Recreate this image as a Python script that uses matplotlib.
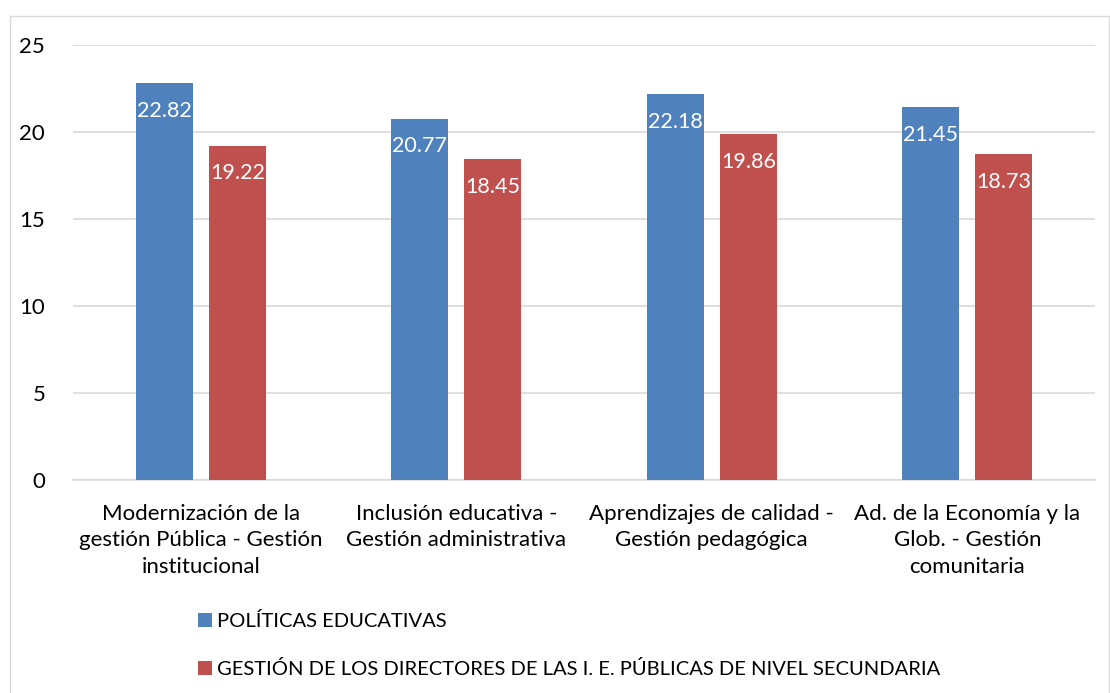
import numpy as np
import matplotlib.pyplot as plt
from matplotlib.patches import Rectangle

plt.rcParams['font.family'] = ['Lato', 'DejaVu Sans']

categorias = ["Modernización de la\ngestión Pública - Gestión\ninstitucional",
              "Inclusión educativa -\nGestión administrativa",
              "Aprendizajes de calidad -\nGestión pedagógica",
              "Ad. de la Economía y la\nGlob. - Gestión\ncomunitaria"]
politicas = [22.82, 20.77, 22.18, 21.45]
gestion = [19.22, 18.45, 19.86, 18.73]
series = ["POLÍTICAS EDUCATIVAS",
          "GESTIÓN DE LOS DIRECTORES DE LAS I. E. PÚBLICAS DE NIVEL SECUNDARIA"]

AZUL = '#4F81BD'
ROJO = '#C0504D'

fig = plt.figure(figsize=(11.1, 6.93), dpi=100)
ax = fig.add_axes([73 / 1110, 0.3074, 1022 / 1110, 0.6276])

# marco exterior
fig.patches.append(Rectangle((9.5 / 1110, -0.01), 1099 / 1110, 1.01 - 16 / 693,
                             transform=fig.transFigure, fill=False,
                             edgecolor='#D9D9D9', linewidth=1))

x = np.arange(len(categorias))
ancho = 0.223
desp = 0.143
b1 = ax.bar(x - desp, politicas, ancho, color=AZUL, label=series[0], zorder=3)
b2 = ax.bar(x + desp, gestion, ancho, color=ROJO, label=series[1], zorder=3)

for barras in (b1, b2):
    for b in barras:
        ax.annotate(f"{b.get_height():.2f}",
                    (b.get_x() + b.get_width() / 2, b.get_height()),
                    xytext=(0, -20), textcoords='offset points',
                    ha='center', va='center', color='white', fontsize=15.5, zorder=4)

ax.set_xlim(-0.5, 3.5)
ax.set_ylim(0, 25)
ax.set_yticks([0, 5, 10, 15, 20, 25])
ax.set_xticks(x)
ax.set_xticklabels(categorias, fontsize=16, linespacing=1.42)
ax.tick_params(axis='both', length=0, labelsize=16)
ax.tick_params(axis='y', pad=20)
ax.tick_params(axis='x', pad=17)
ax.grid(axis='y', color='#D9D9D9', linewidth=1.2, zorder=0)
for s in ['top', 'right', 'left']:
    ax.spines[s].set_visible(False)
ax.spines['bottom'].set_color('#D9D9D9')
ax.spines['bottom'].set_linewidth(1.2)

fig.legend(handles=[b1, b2], labels=series, loc='upper left',
           bbox_to_anchor=(180 / 1110, 1 - 594 / 693), frameon=False,
           fontsize=14.5, handlelength=0.7, handleheight=0.7, handletextpad=0.25,
           labelspacing=1.5)

fig.savefig("out.png", dpi=100)
